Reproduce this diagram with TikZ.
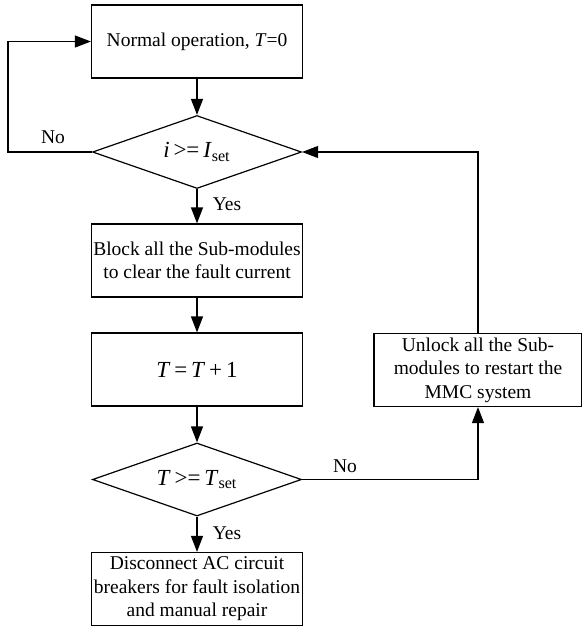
\documentclass[tikz,border=0pt]{standalone}
\usepackage{fontspec}
\setmainfont{Liberation Serif}
\usetikzlibrary{shapes.geometric,arrows.meta}
\begin{document}
\begin{tikzpicture}[x=0.5pt,y=-0.5pt,
    line width=0.6pt,
    >={Triangle[length=8pt,width=6pt]},
    procbox/.style={draw, rectangle, minimum width=105.5pt, minimum height=36.5pt, inner sep=1pt, align=center, font=\fontsize{9.75}{11.7}\selectfont},
    decbox/.style={draw, diamond, aspect=2.86, minimum width=104.5pt, minimum height=36.5pt, inner sep=0pt, font=\fontsize{11.5}{13}\selectfont},
    lbl/.style={inner sep=0pt, font=\fontsize{9.75}{11.7}\selectfont}]

    \useasboundingbox (0,0) rectangle (582,629);

    \node [procbox] at (197,41.5) (norm) {Normal operation, \textit{T}=0};
    \node [decbox] at (197,152) (chki) {\textit{i}\,>=\,\textit{I}\textsubscript{set}};
    \node [procbox] at (197,260.5) (block) {Block all the Sub-modules\\to clear the fault current};
    \node [procbox, font=\fontsize{11.5}{13}\selectfont] at (197,369.5) (count) {\textit{T}\,=\,\textit{T}\,+\,1};
    \node [decbox] at (197,479.5) (chkt) {\textit{T}\,>=\,\textit{T}\textsubscript{set}};
    \node [procbox] at (197,589) (disc) {Disconnect AC circuit\\breakers for fault isolation\\and manual repair};
    \node [procbox, minimum width=104pt] at (478,370) (unlock) {Unlock all the Sub-\\modules to restart the\\MMC system};

    \coordinate (lft) at (8,152);

    \node [lbl] at (53,137) (noi) {No};
    \node [lbl] at (227,204) (yesi) {Yes};
    \node [lbl] at (227,533) (yest) {Yes};
    \node [lbl] at (345,466) (not) {No};

    \path [->,draw] (norm) -- (chki);
    \path [->,draw] (chki) -- (block);
    \path [->,draw] (block) -- (count);
    \path [->,draw] (count) -- (chkt);
    \path [->,draw] (chkt) -- (disc);

    \path [->,draw] (chki.west) -- (lft) |- (norm.west);
    \path [->,draw] (chkt.east) -| (unlock.south);
    \path [->,draw] (unlock.north) |- (chki.east);

\end{tikzpicture}
\end{document}
